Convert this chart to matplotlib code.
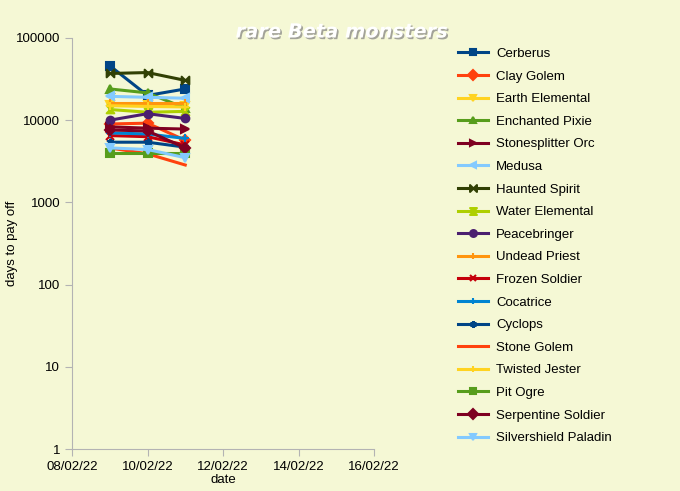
import matplotlib
matplotlib.use("Agg")
import matplotlib.pyplot as plt
import matplotlib.dates as mdates
import matplotlib.patheffects as pe
from matplotlib.path import Path
import numpy as np
import datetime as dt

plt.rcParams["font.family"] = ["Liberation Sans", "DejaVu Sans"]

dates = ["2022-02-09", "2022-02-10", "2022-02-11"]

names = ["Cerberus", "Clay Golem", "Earth Elemental", "Enchanted Pixie",
         "Stonesplitter Orc", "Medusa", "Haunted Spirit", "Water Elemental",
         "Peacebringer", "Undead Priest", "Frozen Soldier", "Cocatrice",
         "Cyclops", "Stone Golem", "Twisted Jester", "Pit Ogre",
         "Serpentine Soldier", "Silvershield Paladin"]

cerberus = [46000, 20000, 24000]
clay_golem = [9000, 9200, 5700]
earth_elemental = [15500, 15500, 15000]
enchanted_pixie = [24000, 21500, 14000]
stonesplitter_orc = [8300, 8000, 7800]
medusa = [19500, 19000, 18500]
haunted_spirit = [37000, 38000, 30500]
water_elemental = [13500, 12500, 12800]
peacebringer = [10000, 12000, 10500]
undead_priest = [16000, 16000, 16000]
frozen_soldier = [6500, 6300, 5000]
cocatrice = [7000, 6800, 6000]
cyclops = [5400, 5400, 4700]
stone_golem = [4600, 3900, 2850]
twisted_jester = [15000, 14700, 14500]
pit_ogre = [4000, 4000, 4000]
serpentine_soldier = [7600, 7400, 4600]
silvershield_paladin = [4600, 4400, 3500]

series = [cerberus, clay_golem, earth_elemental, enchanted_pixie,
          stonesplitter_orc, medusa, haunted_spirit, water_elemental,
          peacebringer, undead_priest, frozen_soldier, cocatrice, cyclops,
          stone_golem, twisted_jester, pit_ogre, serpentine_soldier,
          silvershield_paladin]

colors = ["#004586", "#ff420e", "#ffd320", "#579d1c", "#7e0021", "#83caff",
          "#314004", "#aecf00", "#4b1f6f", "#ff950e", "#c5000b", "#0084d1",
          "#004586", "#ff420e", "#ffd320", "#579d1c", "#7e0021", "#83caff"]

bowtie = Path([(-1, -1), (-1, 1), (0, 0), (1, 1), (1, -1), (0, 0), (-1, -1)],
              [Path.MOVETO, Path.LINETO, Path.LINETO, Path.LINETO, Path.LINETO,
               Path.LINETO, Path.CLOSEPOLY])
hourglass = Path([(-1, -1), (1, -1), (0, 0), (1, 1), (-1, 1), (0, 0), (-1, -1)],
                 [Path.MOVETO, Path.LINETO, Path.LINETO, Path.LINETO, Path.LINETO,
                  Path.LINETO, Path.CLOSEPOLY])

markers = ["s", "D", "v", "^", ">", "<", bowtie, hourglass, "o", "|", "x",
           "+", (6, 2, 0), None, "+", "s", "D", "v"]

bg = "#f5f8d5"
fig = plt.figure(figsize=(6.8, 4.91), dpi=100, facecolor=bg)
ax = fig.add_axes([72/680, 1-449/491, (374-72)/680, (449-38)/491])
ax.set_facecolor(bg)

x = [dt.datetime.strptime(d, "%Y-%m-%d") for d in dates]
for name, vals, c, m in zip(names, series, colors, markers):
    ax.plot(x, vals, color=c, lw=2.2, marker=m, ms=5.5, mew=1.5,
            mfc=c, mec=c, label=name)

ax.set_yscale("log")
ax.set_ylim(1, 100000)
ax.set_xlim(dt.datetime(2022, 2, 8), dt.datetime(2022, 2, 16))
ax.xaxis.set_major_locator(mdates.DayLocator(bymonthday=[8, 10, 12, 14, 16]))
ax.xaxis.set_major_formatter(mdates.DateFormatter("%d/%m/%y"))
ax.yaxis.set_major_formatter(matplotlib.ticker.FuncFormatter(lambda v, p: f"{int(v)}"))
ax.yaxis.set_minor_locator(matplotlib.ticker.NullLocator())
for s in ["top", "right"]:
    ax.spines[s].set_visible(False)
for s in ["left", "bottom"]:
    ax.spines[s].set_color("#b3b3b3")
ax.tick_params(axis="both", colors="#b3b3b3", labelcolor="black", labelsize=9.5,
               length=5, direction="out")
fig.text(12/680, 1-243/491, "days to pay off", rotation=90, ha="center",
         va="center", fontsize=9.5)
ax.set_xlabel("date", fontsize=9.5, labelpad=1)

leg = fig.legend(loc="upper left", bbox_to_anchor=(446/680, 1-36/491),
                 frameon=False, fontsize=9.5, handlelength=2.3, handletextpad=0.6,
                 labelspacing=0.785, markerscale=0.9)

fig.text(342/680, 1-32/491, "rare Beta monsters", ha="center", va="center",
         fontsize=14, fontweight="bold", fontstyle="italic", color="white",
         family="DejaVu Sans",
         path_effects=[pe.SimplePatchShadow(offset=(1.2, -1.2),
                                            shadow_rgbFace="#808080", alpha=0.7),
                       pe.Normal()])

fig.savefig("out.png", dpi=100, facecolor=bg)
